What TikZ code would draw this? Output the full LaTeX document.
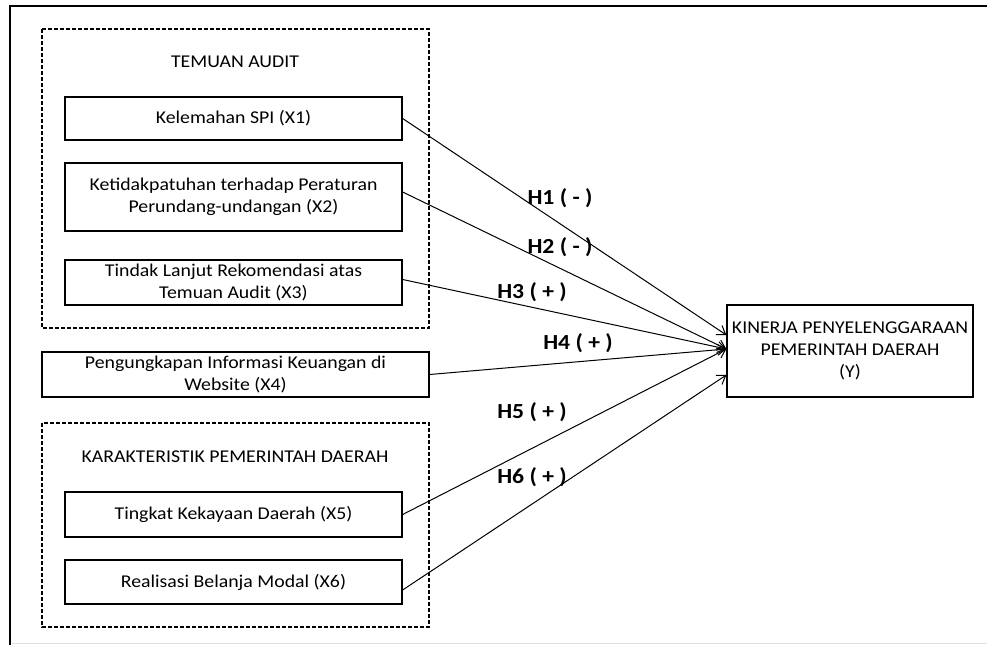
\documentclass[tikz,border=0pt]{standalone}
\usepackage{fontspec}
\setmainfont{Carlito}[FakeStretch=1.1]
\usetikzlibrary{arrows.meta}

\begin{document}
\begin{tikzpicture}[x=1pt,y=-1pt,
	varbox/.style={draw, line width=1.3pt, align=center, inner sep=0pt, font=\fontsize{18}{22}\selectfont},
	groupbox/.style={line width=1.1pt, dash pattern=on 4pt off 2pt},
	grouptitle/.style={font=\fontsize{18}{22}\selectfont},
	hyp/.style={font=\fontsize{21.5}{24}\selectfont\bfseries},
	link/.style={line width=1pt, -{Straight Barb[length=8pt,width=11pt]}}]
				\useasboundingbox (0,0) rectangle (987,647);
				
				% frame
				\draw [line width=1.6pt] (987,6) -- (10,6) -- (10,645);
				\draw [black!12, line width=0.8pt] (12,643) -- (987,643);
				
				% groups
				\draw [groupbox] (42,29) rectangle (429,328);
				\draw [groupbox] (42,423) rectangle (429,627);
				\node [grouptitle] (temuan) at (235,62) {TEMUAN AUDIT};
				\node [grouptitle] (karakter) at (235,457) {KARAKTERISTIK PEMERINTAH DAERAH};
				
				% variables
				\node [varbox, minimum width=337pt, minimum height=43pt] (x1) at (233.5,118.5) {Kelemahan SPI (X1)};
				\node [varbox, minimum width=337pt, minimum height=68pt] (x2) at (233.5,197) {Ketidakpatuhan terhadap Peraturan\\Perundang-undangan (X2)};
				\node [varbox, minimum width=337pt, minimum height=45pt] (x3) at (233.5,282.5) {Tindak Lanjut Rekomendasi atas\\Temuan Audit (X3)};
				\node [varbox, minimum width=387pt, minimum height=45pt] (x4) at (235.5,374.5) {Pengungkapan Informasi Keuangan di\\Website (X4)};
				\node [varbox, minimum width=337pt, minimum height=45pt] (x5) at (233.5,514.5) {Tingkat Kekayaan Daerah (X5)};
				\node [varbox, minimum width=337pt, minimum height=44pt] (x6) at (233.5,582) {Realisasi Belanja Modal (X6)};
				\node [varbox, minimum width=246pt, minimum height=92pt] (y) at (850,351) {KINERJA PENYELENGGARAAN\\PEMERINTAH DAERAH\\(Y)};
				
				% hypotheses
				\draw [link] (x1.east) -- ([yshift=16pt]y.west);
				\draw [link] ([yshift=5pt]x2.east) -- ([yshift=2pt]y.west);
				\draw [link] ([yshift=3pt]x3.east) -- ([yshift=2pt]y.west);
				\draw [link] (x4.east) -- ([yshift=2pt]y.west);
				\draw [link] (x5.east) -- ([yshift=2pt]y.west);
				\draw [link] ([yshift=-8pt]x6.east) -- ([yshift=-24pt]y.west);
				
				\node [hyp] (h1) at (560,198) {H1 ( - )};
				\node [hyp] (h2) at (560,247) {H2 ( - )};
				\node [hyp] (h3) at (532,292) {H3 ( + )};
				\node [hyp] (h4) at (578,343) {H4 ( + )};
				\node [hyp] (h5) at (532,412) {H5 ( + )};
				\node [hyp] (h6) at (532,477) {H6 ( + )};
\end{tikzpicture}
\end{document}
